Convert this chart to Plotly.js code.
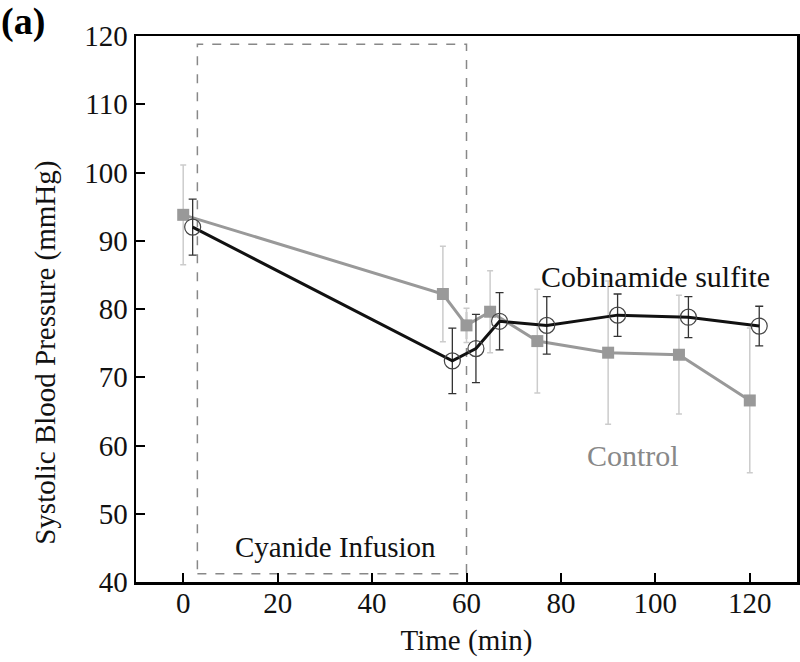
<!DOCTYPE html>
<html>
<head>
<meta charset="utf-8">
<script src="https://cdn.plot.ly/plotly-3.0.1.min.js"></script>
<style>html,body{margin:0;padding:0;background:#fff;}#chart{width:800px;height:662px;}</style>
</head>
<body>
<div id="chart"></div>
<script>
// Control group (gray squares)
const controlTime = [0, 55, 60, 65, 75, 90, 105, 120];
const controlSBP = [93.8, 82.2, 77.6, 79.6, 75.3, 73.6, 73.3, 66.6];
const controlErr = [7.3, 7.0, 2.5, 6.0, 7.6, 10.5, 8.7, 10.6];

// Cobinamide sulfite group (open circles)
const cobiTime = [2, 57, 62, 67, 77, 92, 107, 122];
const cobiSBP = [92.0, 72.4, 74.2, 78.2, 77.6, 79.1, 78.8, 77.5];
const cobiErr = [4.1, 4.8, 5.0, 4.2, 4.2, 3.1, 3.0, 2.9];

// Cyanide infusion window
const infusionStart = 3;
const infusionEnd = 60;
const infusionLow = 41.2;
const infusionHigh = 118.8;

const xTicks = [0, 20, 40, 60, 80, 100, 120];
const yTicks = [40, 50, 60, 70, 80, 90, 100, 110, 120];

const serif = "'Liberation Serif'";

const traces = [
  {
    x: controlTime, y: controlSBP, name: "Control", type: "scatter", mode: "lines+markers",
    line: {color: "#999999", width: 3},
    marker: {symbol: "square", size: 12, color: "#999999"},
    error_y: {type: "data", array: controlErr, visible: true, color: "#cccccc", thickness: 1.5, width: 3}
  },
  {
    x: cobiTime, y: cobiSBP, name: "Cobinamide sulfite", type: "scatter", mode: "lines+markers",
    line: {color: "#111111", width: 3},
    marker: {symbol: "circle-open", size: 16, color: "#444444", line: {width: 1.2, color: "#444444"}},
    error_y: {type: "data", array: cobiErr, visible: true, color: "#333333", thickness: 1.3, width: 4}
  }
];

const layout = {
  width: 800, height: 662,
  margin: {l: 136, r: 3, t: 36, b: 80},
  paper_bgcolor: "#ffffff", plot_bgcolor: "#ffffff",
  showlegend: false,
  font: {family: serif, color: "#111111", size: 28},
  xaxis: {
    range: [-10, 130], tickvals: xTicks, ticktext: xTicks.map(String),
    ticks: "inside", ticklen: 9, tickwidth: 2, tickcolor: "#000",
    showline: true, linewidth: 2.5, linecolor: "#000", mirror: true,
    showgrid: false, zeroline: false, ticklabelstandoff: -6,
    tickfont: {family: serif, size: 29, color: "#111"},
    title: {text: "Time (min)", font: {family: serif, size: 29, color: "#111"}, standoff: 12}
  },
  yaxis: {
    range: [40, 120], tickvals: yTicks, ticktext: yTicks.map(String),
    ticks: "inside", ticklen: 9, tickwidth: 2, tickcolor: "#000",
    showline: true, linewidth: 2.5, linecolor: "#000", mirror: true,
    showgrid: false, zeroline: false,
    tickfont: {family: serif, size: 29, color: "#111"}
  },
  shapes: [{
    type: "rect", xref: "x", yref: "y",
    x0: infusionStart, x1: infusionEnd, y0: infusionLow, y1: infusionHigh,
    line: {color: "#888888", width: 1.5, dash: "dash"}, fillcolor: "rgba(0,0,0,0)", layer: "below"
  }],
  annotations: [
    {text: "Systolic Blood Pressure (mmHg)", xref: "paper", yref: "paper", x: -0.136, y: 0.42,
     xanchor: "center", yanchor: "middle", textangle: -90, showarrow: false,
     font: {family: serif, size: 29, color: "#111"}},
    {text: "Cobinamide sulfite", xref: "x", yref: "y", x: 100, y: 84.8, showarrow: false,
     xanchor: "center", yanchor: "middle", font: {family: serif, size: 30, color: "#111"}},
    {text: "Control", xref: "x", yref: "y", x: 95.3, y: 58.5, showarrow: false,
     xanchor: "center", yanchor: "middle", font: {family: serif, size: 30, color: "#888888"}},
    {text: "Cyanide Infusion", xref: "x", yref: "y", x: 32.2, y: 45.2, showarrow: false,
     xanchor: "center", yanchor: "middle", font: {family: serif, size: 29, color: "#111"}},
    {text: "<b>(a)</b>", xref: "paper", yref: "paper", x: -0.208, y: 1.026, showarrow: false,
     xanchor: "left", yanchor: "middle", font: {family: serif, size: 38, color: "#000"}}
  ]
};

Plotly.newPlot("chart", traces, layout, {displayModeBar: false, staticPlot: true});
</script>
</body>
</html>
